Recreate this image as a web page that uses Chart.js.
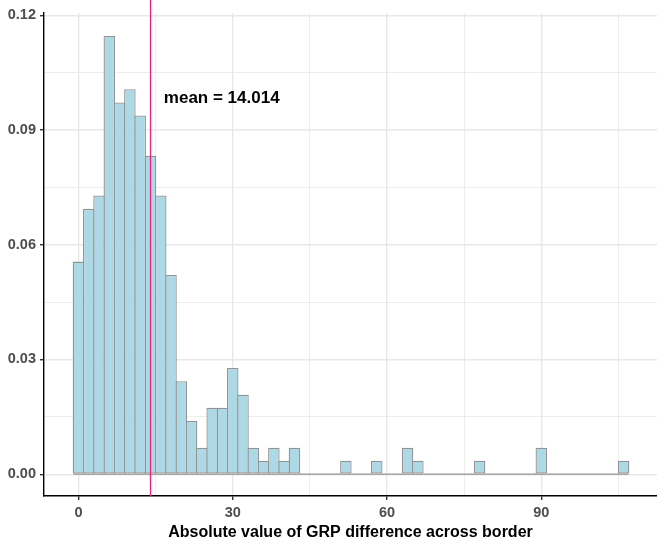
<!DOCTYPE html>
<html>
<head>
<meta charset="utf-8">
<script src="https://cdn.jsdelivr.net/npm/chart.js@4"></script>
<style>
  body { margin: 0; background: #fff; }
  #wrap { width: 657px; height: 542px; position: relative; }
</style>
</head>
<body>
<div id="wrap"><canvas id="histChart"></canvas></div>
<script>
// bin centres (width 2) and density per bin
var binWidth = 2;
var binCenters = [0, 2, 4, 6, 8, 10, 12, 14, 16, 18, 20, 22, 24, 26, 28, 30, 32, 34, 36, 38, 40, 42,
    44, 46, 48, 50, 52, 54, 56, 58, 60, 62, 64, 66, 68, 70, 72, 74, 76, 78, 80, 82, 84, 86, 88, 90,
    92, 94, 96, 98, 100, 102, 104, 106];
var density = [0.0556, 0.0694, 0.0729, 0.1146, 0.0972, 0.1007, 0.0938, 0.0833, 0.0729, 0.0521, 0.0243, 0.0139,
    0.0069, 0.0174, 0.0174, 0.0278, 0.0208, 0.0069, 0.0035, 0.0069, 0.0035, 0.0069,
    0, 0, 0, 0, 0.0035, 0, 0, 0.0035, 0, 0, 0.0069, 0.0035, 0, 0, 0, 0, 0, 0.0035, 0, 0, 0, 0, 0, 0.0069,
    0, 0, 0, 0, 0, 0, 0, 0.0035];
var meanValue = 14.014;
var meanLabel = 'mean = 14.014';
var meanLabelPos = { x: 16.6, y: 0.0972 };

var xTicks = [0, 15, 30, 45, 60, 75, 90, 105];   // even index = labelled major
var yTicks = [0, 0.015, 0.03, 0.045, 0.06, 0.075, 0.09, 0.105, 0.12];

var tickFont = { family: '"Liberation Sans", Arial, sans-serif', size: 14.5, weight: 'bold' };

var barPoints = binCenters.map(function(c, i) { return { x: c, y: density[i] }; });
var baseLine = [
    { x: binCenters[0] - binWidth / 2, y: 0 },
    { x: binCenters[binCenters.length - 1] + binWidth / 2, y: 0 }
];

// vertical mean line + label
var meanPlugin = {
    id: 'meanLine',
    afterDatasetsDraw: function(chart) {
        var ctx = chart.ctx;
        var xs = chart.scales.x, ys = chart.scales.y;
        var px = xs.getPixelForValue(meanValue);
        ctx.save();
        ctx.strokeStyle = '#E8237E';
        ctx.lineWidth = 1.3;
        ctx.beginPath();
        ctx.moveTo(px, 0);
        ctx.lineTo(px, chart.chartArea.bottom);
        ctx.stroke();
        ctx.fillStyle = '#000';
        ctx.font = 'bold 17px "Liberation Sans", Arial, sans-serif';
        ctx.textBaseline = 'alphabetic';
        ctx.textAlign = 'left';
        ctx.fillText(meanLabel, xs.getPixelForValue(meanLabelPos.x), ys.getPixelForValue(meanLabelPos.y));
        ctx.restore();
    }
};

var ctx = document.getElementById('histChart').getContext('2d');
var myChart = new Chart(ctx, {
    type: 'bar',
    data: {
        datasets: [{
            type: 'line',
            data: baseLine,
            borderColor: '#939393',
            borderWidth: 1.3,
            pointRadius: 0,
            order: 2
        }, {
            data: barPoints,
            backgroundColor: '#ADD8E6',
            borderColor: '#939393',
            borderWidth: 1.3,
            borderSkipped: false,
            barPercentage: 1.12,
            categoryPercentage: 1,
            order: 1
        }]
    },
    plugins: [meanPlugin],
    options: {
        responsive: true,
        maintainAspectRatio: false,
        animation: false,
        layout: { padding: { top: 7, right: 0, left: 0, bottom: 0 } },
        plugins: {
            legend: { display: false },
            tooltip: { enabled: false }
        },
        scales: {
            x: {
                type: 'linear',
                min: -6.7,
                max: 112.5,
                offset: false,
                afterBuildTicks: function(scale) {
                    scale.ticks = xTicks.map(function(v) { return { value: v }; });
                },
                afterFit: function(scale) { scale.height = 46; },
                grid: {
                    offset: false,
                    color: '#E8E8E8',
                    lineWidth: function(c) { return c.index % 2 === 0 ? 1.4 : 0.8; },
                    tickColor: function(c) { return c.index % 2 === 0 ? '#333333' : 'rgba(0,0,0,0)'; },
                    tickLength: 4
                },
                border: { color: '#000', width: 1.4 },
                ticks: {
                    autoSkip: false,
                    maxRotation: 0,
                    padding: 4,
                    color: '#4D4D4D',
                    font: tickFont,
                    callback: function(v, i) { return i % 2 === 0 ? String(v) : ''; }
                },
                title: {
                    display: true,
                    text: 'Absolute value of GRP difference across border',
                    color: '#000',
                    font: { family: '"Liberation Sans", Arial, sans-serif', size: 16, weight: 'bold' },
                    padding: { top: 0, bottom: 0 }
                }
            },
            y: {
                min: -0.0057,
                max: 0.1207,
                afterBuildTicks: function(scale) {
                    scale.ticks = yTicks.map(function(v) { return { value: v }; });
                },
                afterFit: function(scale) { scale.width = 44; },
                grid: {
                    color: '#E8E8E8',
                    lineWidth: function(c) { return c.index % 2 === 0 ? 1.4 : 0.8; },
                    tickColor: function(c) { return c.index % 2 === 0 ? '#333333' : 'rgba(0,0,0,0)'; },
                    tickLength: 4
                },
                border: { color: '#000', width: 1.4 },
                ticks: {
                    autoSkip: false,
                    padding: 4,
                    color: '#4D4D4D',
                    font: tickFont,
                    callback: function(v, i) { return i % 2 === 0 ? yTicks[i].toFixed(2) : ''; }
                }
            }
        }
    }
});
</script>
</body>
</html>
